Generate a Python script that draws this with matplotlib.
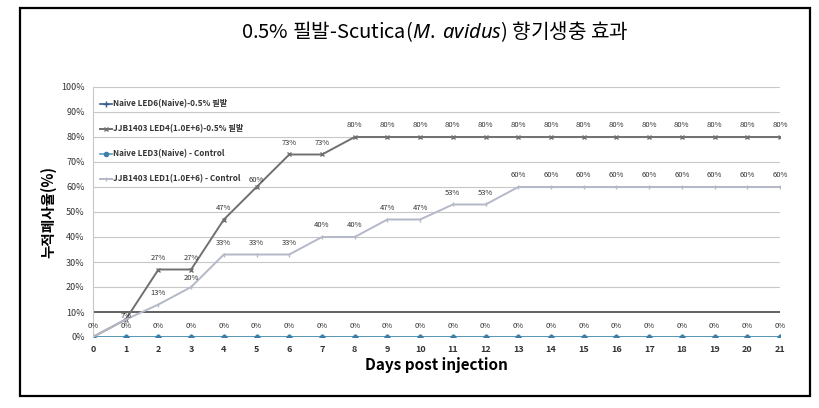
import matplotlib
matplotlib.use('Agg')
import matplotlib.pyplot as plt
from matplotlib.patches import Rectangle

plt.rcParams['font.family'] = ['Noto Sans CJK KR', 'DejaVu Sans']
plt.rcParams['mathtext.fontset'] = 'custom'
plt.rcParams['mathtext.it'] = 'Noto Sans:italic'
plt.rcParams['mathtext.rm'] = 'Noto Sans'

days = list(range(22))
naive_led6 = [0] * 22
jjb_led4 = [0, 7, 27, 27, 47, 60, 73, 73] + [80] * 14
naive_led3 = [0] * 22
jjb_led1 = [0, 7, 13, 20, 33, 33, 33, 40, 40, 47, 47, 53, 53] + [60] * 9

names = ['Naive LED6(Naive)-0.5% 필발',
         'JJB1403 LED4(1.0E+6)-0.5% 필발',
         'Naive LED3(Naive) - Control',
         'JJB1403 LED1(1.0E+6) - Control']
yticks = list(range(0, 101, 10))

fig = plt.figure(figsize=(8.2, 4.08), dpi=100)
fig.patches.append(Rectangle((20 / 820, 12 / 408), 790 / 820, 388 / 408,
                             transform=fig.transFigure, fill=False,
                             edgecolor='black', linewidth=1.6))
ax = fig.add_axes([93 / 820, 1 - 337 / 408, 687 / 820, 250 / 408])

for y in yticks:
    ax.axhline(y, color='#555555' if y == 10 else '#c8c8c8',
               linewidth=1.3 if y == 10 else 0.8, zorder=0)

h1, = ax.plot(days, naive_led6, color='#3b5b8c', marker='+', markersize=4, linewidth=1.2)
h2, = ax.plot(days, jjb_led4, color='#707070', marker='x', markersize=3, linewidth=1.4)
h3, = ax.plot(days, naive_led3, color='#5aa0c0', marker='o', markersize=3, linewidth=1.2,
              markeredgecolor='#3d7fa8', markerfacecolor='#3d7fa8')
h4, = ax.plot(days, jjb_led1, color='#b4b8c8', marker='|', markersize=3, linewidth=1.4)

lab = dict(fontsize=5.5, color='#333333', ha='center', va='bottom')
for d, v in zip(days, jjb_led4):
    if d == 0:
        continue
    if d == 5:
        ax.text(d - 0.02, v + 1.0, f'{v}%', **lab)
    elif d == 1:
        ax.text(d, v, f'{v}%', **lab)
    else:
        ax.text(d, v + 3, f'{v}%', **lab)
for d, v in zip(days, jjb_led1):
    if d < 2:
        continue
    if d == 3:
        ax.text(d, v + 2, f'{v}%', **lab)
    else:
        ax.text(d, v + 3, f'{v}%', **lab)
for d, v in zip(days, naive_led3):
    ax.text(d, v + 3, f'{v}%', **lab)

ax.set_xlim(0, 21)
ax.set_ylim(0, 100)
ax.set_xticks(days)
ax.set_xticklabels([str(d) for d in days], fontsize=6.5, fontweight='bold', color='#333333')
ax.set_yticks(yticks)
ax.set_yticklabels([f'{y}%' for y in yticks], fontsize=6.5, color='#333333')
ax.tick_params(length=0, pad=6)
for s in ['top', 'right', 'bottom']:
    ax.spines[s].set_visible(False)
ax.spines['left'].set_color('#c8c8c8')
ax.set_xlabel('Days post injection', fontsize=11, fontweight='bold', labelpad=2)
ax.set_ylabel('누적폐사율(%)', fontsize=10.5, fontweight='bold', labelpad=3)

leg = ax.legend([h1, h2, h3, h4], names, loc='upper left', bbox_to_anchor=(0.0, 0.98),
                frameon=False, fontsize=5.9, labelspacing=1.95, handlelength=1.4,
                handletextpad=0.2)
for t in leg.get_texts():
    t.set_fontweight('bold')
    t.set_color('#333333')

fig.text(435 / 820, 1 - 32 / 408, '0.5% 필발-Scutica($M.$ $avidus$) 향기생충 효과',
         ha='center', va='center', fontsize=14.5, fontweight='medium')

fig.savefig('out.png', dpi=100, facecolor='white')
